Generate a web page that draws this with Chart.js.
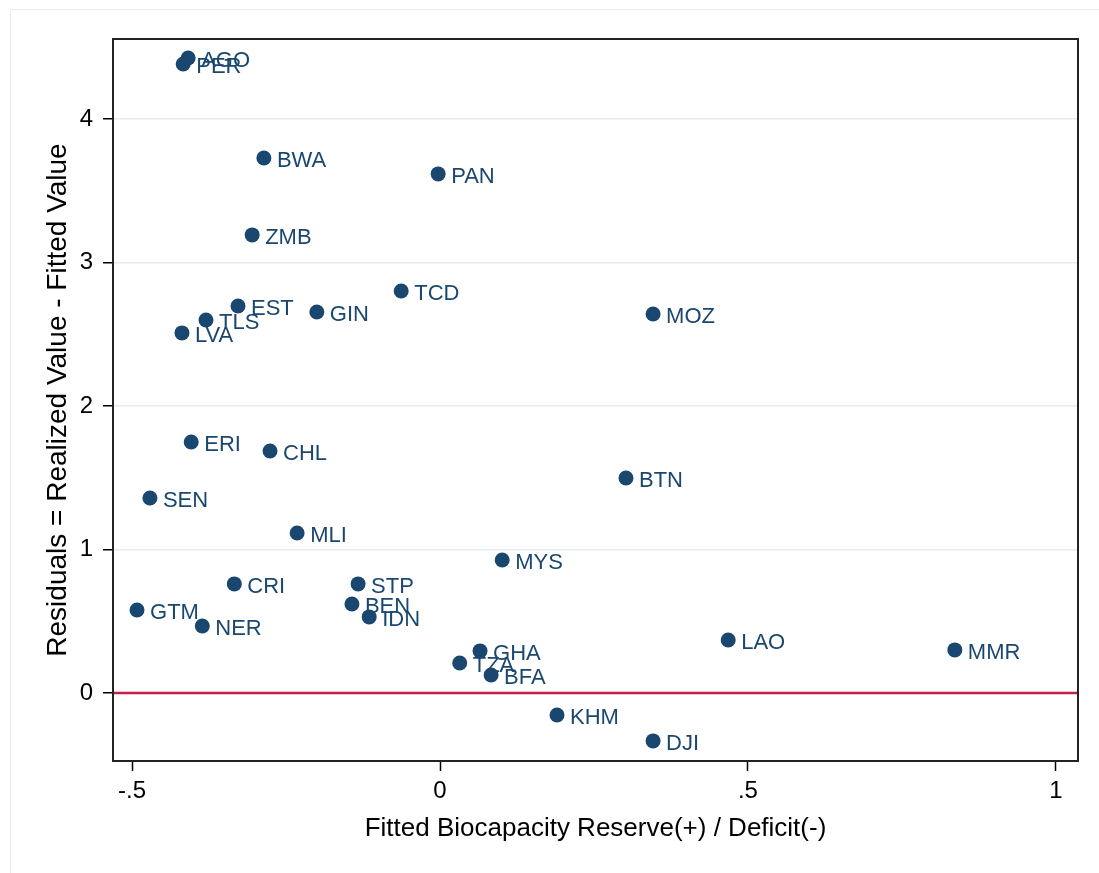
<!DOCTYPE html>
<html>
<head>
<meta charset="utf-8">
<script src="https://cdn.jsdelivr.net/npm/chart.js@4.4.1/dist/chart.umd.min.js"></script>
<style>
  html, body { margin: 0; padding: 0; background: #fff; }
  #frame { position: absolute; left: 10px; top: 9px; width: 1100px; height: 900px;
           border-top: 1px solid #ececec; border-left: 1px solid #ececec; }
  #wrap { position: absolute; left: 0; top: 0; width: 1099px; height: 873px; }
</style>
</head>
<body>
<div id="frame"></div>
<div id="wrap"><canvas id="chart" width="1099" height="873"></canvas></div>
<script>
// country codes and the two values
const countries = ['AGO', 'PER', 'BWA', 'PAN', 'ZMB', 'TCD', 'EST', 'GIN', 'TLS', 'MOZ',
                   'LVA', 'ERI', 'CHL', 'BTN', 'SEN', 'MLI', 'MYS', 'CRI', 'STP', 'GTM',
                   'BEN', 'IDN', 'NER', 'GHA', 'LAO', 'MMR', 'TZA', 'BFA', 'KHM', 'DJI'];
const fittedReserve = [-0.409, -0.417, -0.286, -0.003, -0.305, -0.063, -0.328, -0.200, -0.380, 0.346,
                       -0.419, -0.404, -0.276, 0.302, -0.471, -0.232, 0.101, -0.334, -0.133, -0.492,
                       -0.143, -0.115, -0.386, 0.065, 0.468, 0.836, 0.032, 0.083, 0.190, 0.346];
const residuals = [4.425, 4.383, 3.728, 3.617, 3.192, 2.801, 2.697, 2.655, 2.599, 2.641,
                   2.509, 1.749, 1.686, 1.498, 1.359, 1.115, 0.927, 0.760, 0.760, 0.578,
                   0.620, 0.530, 0.467, 0.293, 0.369, 0.300, 0.209, 0.125, -0.153, -0.334];

const xTicks = [-0.5, 0, 0.5, 1];
const yTicks = [0, 1, 2, 3, 4];
const xMin = -0.531, xMax = 1.036;
const yMin = -0.474, yMax = 4.557;

const navy = '#1a476f';
const FONT = "'Liberation Sans', Arial, Helvetica, sans-serif";

function fmt(v) {
    if (v === 0) return '0';
    let s = String(v);
    return s.replace(/^(-?)0\./, '$1.');
}

// labels to the right of each marker
const pointLabels = {
    id: 'pointLabels',
    afterDatasetsDraw(chart) {
        const meta = chart.getDatasetMeta(1);
        const ctx = chart.ctx;
        ctx.save();
        ctx.fillStyle = navy;
        ctx.font = '22px ' + FONT;
        ctx.textBaseline = 'middle';
        ctx.textAlign = 'left';
        meta.data.forEach((pt, i) => {
            ctx.fillText(countries[i], pt.x + 13, pt.y + 3);
        });
        ctx.restore();
    }
};

// box round the plot area
const plotFrame = {
    id: 'plotFrame',
    afterDraw(chart) {
        const a = chart.chartArea;
        const ctx = chart.ctx;
        ctx.save();
        ctx.strokeStyle = '#222';
        ctx.lineWidth = 2;
        ctx.strokeRect(a.left, a.top, a.right - a.left, a.bottom - a.top);
        ctx.restore();
    }
};

const points = countries.map((c, i) => ({ x: fittedReserve[i], y: residuals[i] }));

new Chart(document.getElementById('chart'), {
    type: 'scatter',
    data: {
        datasets: [
            {
                type: 'line',
                data: [{ x: xMin, y: 0 }, { x: xMax, y: 0 }],
                borderColor: '#c41e4a',
                borderWidth: 2.5,
                pointRadius: 0
            },
            {
                data: points,
                backgroundColor: navy,
                borderWidth: 0,
                pointRadius: 7.5
            }
        ]
    },
    options: {
        responsive: false,
        animation: false,
        devicePixelRatio: 1,
        layout: { padding: { left: 10, top: 39, right: 21, bottom: 0 } },
        plugins: {
            legend: { display: false },
            tooltip: { enabled: false }
        },
        scales: {
            x: {
                type: 'linear',
                min: xMin,
                max: xMax,
                afterBuildTicks: s => { s.ticks = xTicks.map(v => ({ value: v })); },
                afterFit: s => { s.height = 112; },
                border: { color: '#000', width: 2 },
                grid: { drawOnChartArea: false, tickLength: 10, tickColor: '#000', tickWidth: 1.5 },
                ticks: {
                    color: '#000',
                    font: { family: FONT, size: 24 },
                    padding: 6,
                    maxRotation: 0,
                    callback: v => fmt(v)
                },
                title: {
                    display: true,
                    text: 'Fitted Biocapacity Reserve(+) / Deficit(-)',
                    color: '#000',
                    font: { family: FONT, size: 26 },
                    padding: { bottom: 29 }
                }
            },
            y: {
                type: 'linear',
                min: yMin,
                max: yMax,
                afterBuildTicks: s => { s.ticks = yTicks.map(v => ({ value: v })); },
                afterFit: s => { s.width = 103; },
                border: { color: '#000', width: 2 },
                grid: {
                    color: ctx => ctx.tick && ctx.tick.value === 0 ? 'rgba(0,0,0,0)' : '#e3ecee',
                    lineWidth: 1.5,
                    tickLength: 10,
                    tickColor: '#000',
                    tickWidth: 1.5
                },
                ticks: {
                    color: '#000',
                    font: { family: FONT, size: 24 },
                    padding: 10,
                    callback: v => fmt(v)
                },
                title: {
                    display: true,
                    text: 'Residuals = Realized Value - Fitted Value',
                    color: '#000',
                    font: { family: FONT, size: 28 },
                    padding: { top: 31 }
                }
            }
        }
    },
    plugins: [pointLabels, plotFrame]
});
</script>
</body>
</html>
